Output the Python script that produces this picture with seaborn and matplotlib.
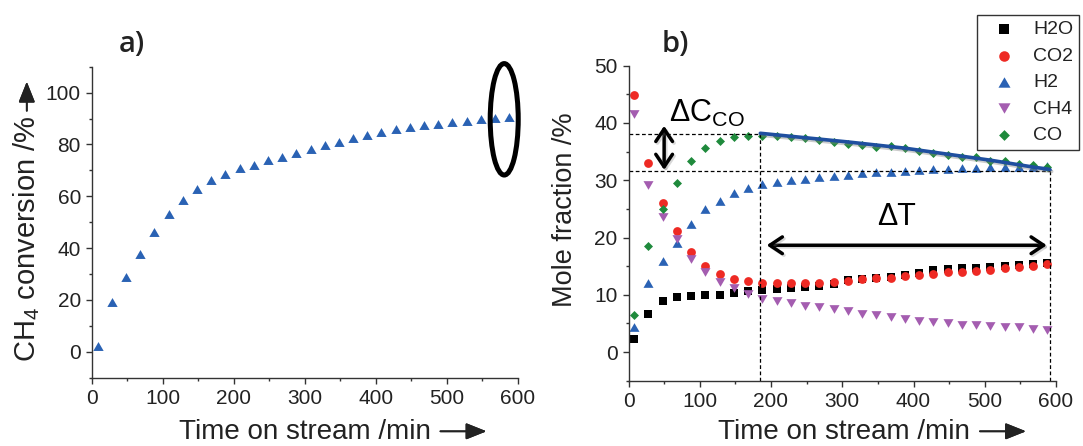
import matplotlib
matplotlib.use("Agg")
import matplotlib.pyplot as plt
import matplotlib.patheffects as pe
from matplotlib.patches import Ellipse
from matplotlib.path import Path
from matplotlib.ticker import MultipleLocator
import seaborn as sns

# ---------------- data ----------------
time_min = [8, 28, 48, 68, 88, 108, 128, 148, 168, 188,
            208, 228, 248, 268, 288, 308, 328, 348, 368, 388,
            408, 428, 448, 468, 488, 508, 528, 548, 568, 588]

ch4_conversion = [2.3, 19.3, 29.0, 37.7, 46.2, 53.0, 58.4, 62.7, 66.2, 68.5,
                  70.8, 72.2, 73.9, 75.3, 76.7, 78.4, 79.7, 81.1, 82.4, 83.7,
                  84.8, 85.9, 86.9, 87.5, 88.0, 88.7, 89.2, 89.7, 90.2, 90.6]

h2o = [2.2, 6.6, 8.9, 9.7, 9.85, 9.9, 10.0, 10.3, 10.6, 10.8,
       11.0, 11.1, 11.3, 11.5, 11.8, 12.5, 12.7, 12.9, 13.1, 13.4,
       13.8, 14.3, 14.5, 14.6, 14.7, 14.9, 15.0, 15.2, 15.3, 15.6]
co2 = [44.9, 33.0, 26.0, 21.1, 17.5, 15.0, 13.7, 12.8, 12.4, 12.1,
       12.0, 12.0, 12.0, 12.1, 12.3, 12.4, 12.7, 12.9, 13.0, 13.2,
       13.4, 13.7, 14.0, 14.0, 14.2, 14.4, 14.7, 14.9, 15.0, 15.3]
h2 = [4.4, 12.0, 15.9, 19.1, 22.4, 24.9, 26.4, 27.7, 28.7, 29.3,
      29.7, 30.0, 30.3, 30.6, 30.8, 31.0, 31.2, 31.4, 31.5, 31.7,
      31.8, 31.9, 32.0, 32.1, 32.2, 32.3, 32.3, 32.4, 32.4, 32.5]
ch4 = [41.6, 29.1, 23.6, 19.7, 16.2, 14.0, 12.2, 11.1, 10.2, 9.3,
       8.9, 8.5, 8.0, 7.8, 7.6, 7.1, 6.7, 6.4, 6.2, 5.8,
       5.4, 5.2, 5.0, 4.8, 4.7, 4.5, 4.4, 4.3, 4.1, 3.9]
co = [6.5, 18.5, 24.9, 29.6, 33.4, 35.6, 36.8, 37.5, 37.7, 37.8,
      37.7, 37.6, 37.4, 37.0, 36.7, 36.4, 36.1, 35.8, 35.9, 35.6,
      35.1, 34.7, 34.4, 34.1, 34.0, 33.4, 33.4, 32.9, 32.6, 32.4]

fit_time = [185, 307, 388, 508, 568, 591]
fit_co = [38.2, 36.7, 35.6, 33.5, 32.3, 31.9]

co_start_level = 38.0
co_end_level = 31.7
t_start = 184
t_end = 591
delta_c_time = 50
delta_t_level = 18.65

x_ticks = [0, 100, 200, 300, 400, 500, 600]
y_ticks_a = [0, 20, 40, 60, 80, 100]
y_ticks_b = [0, 10, 20, 30, 40, 50]

# ---------------- style ----------------
sns.set_theme(style="ticks")
plt.rcParams["font.family"] = ["Liberation Sans", "DejaVu Sans"]
plt.rcParams["mathtext.fontset"] = "custom"
plt.rcParams["mathtext.rm"] = "Liberation Sans"
plt.rcParams["mathtext.default"] = "regular"

TXT = "#222222"
SP = "#333333"
BLUE = "#2a62b4"
RED = "#ee2a24"
PURPLE = "#a45db0"
GREEN = "#1f8a3c"

tri_up = Path([(-1, -0.866), (1, -0.866), (0, 0.866), (-1, -0.866)],
              [Path.MOVETO, Path.LINETO, Path.LINETO, Path.CLOSEPOLY])
tri_dn = Path([(-1, 0.866), (1, 0.866), (0, -0.866), (-1, 0.866)],
              [Path.MOVETO, Path.LINETO, Path.LINETO, Path.CLOSEPOLY])

W, H = 1083, 446
fig = plt.figure(figsize=(W / 100, H / 100), dpi=100)


def fx(px):
    return px / W


def fy(py):
    return 1 - py / H


ax1 = fig.add_axes([fx(92), fy(377.7), (517.7 - 92) / W, (377.7 - 66.7) / H])
ax2 = fig.add_axes([fx(628.5), fy(380.7), (1056 - 628.5) / W, (380.7 - 65.7) / H])

for ax in (ax1, ax2):
    ax.spines[["top", "right"]].set_visible(False)
    for s in ("left", "bottom"):
        ax.spines[s].set_linewidth(1.0)
        ax.spines[s].set_color(SP)
    ax.tick_params(which="major", length=4, width=1.0, color=SP,
                   labelsize=15, labelcolor=TXT, pad=4, direction="out")
    ax.tick_params(which="minor", length=2.5, width=1.0, color=SP, direction="out")
    ax.set_xlim(0, 600)
    ax.set_xticks(x_ticks)
    ax.xaxis.set_minor_locator(MultipleLocator(50))
    ax.set_xlabel("")
    ax.set_ylabel("")

# ---------------- panel a ----------------
sns.scatterplot(x=time_min, y=ch4_conversion, ax=ax1, marker=tri_up, s=55,
                color=BLUE, linewidth=0, legend=False)
ax1.set_ylim(-10, 110)
ax1.set_yticks(y_ticks_a)
ax1.yaxis.set_minor_locator(MultipleLocator(10))
ax1.add_patch(Ellipse((581, 89.7), width=39.5, height=43, fill=False,
                      lw=3.6, ec="black", clip_on=False, zorder=5))

# ---------------- panel b ----------------
series = [("H2O", h2o, "s", 34, "black"),
          ("CO2", co2, "o", 40, RED),
          ("H2", h2, tri_up, 52, BLUE),
          ("CH4", ch4, tri_dn, 52, PURPLE),
          ("CO", co, "D", 21, GREEN)]
for name, vals, mk, sz, colr in series:
    sns.scatterplot(x=time_min, y=vals, ax=ax2, marker=mk, s=sz, color=colr,
                    linewidth=0, label=name)
sns.lineplot(x=fit_time, y=fit_co, ax=ax2, color="#1f4f9f", lw=2.6, zorder=4,
             legend=False,
             path_effects=[pe.SimpleLineShadow(offset=(1.5, -1.5), shadow_color="gray", alpha=0.4),
                           pe.Normal()])
ax2.set_ylim(-5, 50)
ax2.set_yticks(y_ticks_b)
ax2.yaxis.set_minor_locator(MultipleLocator(5))

dash = dict(color="black", lw=0.9, linestyles=(0, (3, 2)), zorder=1)
ax2.hlines(co_start_level, 0, t_start, **dash)
ax2.hlines(co_end_level, 0, t_end, **dash)
ax2.vlines(t_start, -5, co_start_level, **dash)
ax2.vlines(t_end, -5, co_end_level, **dash)

arrow_style = dict(arrowstyle="<->,head_length=0.45,head_width=0.3", lw=2.5,
                   color="black", shrinkA=0, shrinkB=0, mutation_scale=20,
                   path_effects=[pe.SimpleLineShadow(offset=(1.2, -1.2), shadow_color="gray", alpha=0.3),
                                 pe.Normal()])
ax2.annotate("", xy=(delta_c_time, 39.5), xytext=(delta_c_time, 31.8), arrowprops=arrow_style)
ax2.annotate("", xy=(194, delta_t_level), xytext=(587, delta_t_level), arrowprops=arrow_style)
ax2.text(57, 40.2, "ΔC$_{CO}$", fontsize=22, color="black", va="baseline")
ax2.text(376, 22.2, "ΔT", fontsize=22, color="black", ha="center", va="baseline")

leg = ax2.legend(loc="upper left", bbox_to_anchor=(fx(977), fy(15)),
                 bbox_transform=fig.transFigure, frameon=True, fancybox=False,
                 fontsize=14, borderpad=0.3, handlelength=2.2, handletextpad=0.4,
                 labelspacing=0.45, borderaxespad=0, markerscale=1.2)
leg.get_frame().set_edgecolor("black")
leg.get_frame().set_linewidth(1.0)
for t in leg.get_texts():
    t.set_color(TXT)

# ---------------- labels ----------------
fig.text(fx(132), fy(44), "a)", fontsize=21, fontweight="semibold",
         family=["Open Sans", "DejaVu Sans"], ha="center", va="center", color=TXT)
fig.text(fx(675), fy(44), "b)", fontsize=21, fontweight="semibold",
         family=["Open Sans", "DejaVu Sans"], ha="center", va="center", color=TXT)

XL_BASE = 439
xl_a = fig.text(fx(304.5), fy(XL_BASE), "Time on stream /min", fontsize=20,
                ha="center", va="baseline", color=TXT)
xl_b = fig.text(fx(844), fy(XL_BASE), "Time on stream /min", fontsize=20,
                ha="center", va="baseline", color=TXT)
yl_a = fig.text(fx(27), fy(239), "CH$_4$ conversion /%", fontsize=21, rotation=90,
                ha="center", va="center", color=TXT)
yl_b = fig.text(fx(564.5), fy(210), "Mole fraction /%", fontsize=19.5, rotation=90,
                ha="center", va="center", color=TXT)

fig.canvas.draw()
lab_arrow = dict(arrowstyle="-|>,head_length=0.7,head_width=0.28", lw=1.3,
                 color=TXT, shrinkA=0, shrinkB=0, mutation_scale=18)
for t in (xl_a, xl_b):
    bb = t.get_window_extent()
    y0 = H - (XL_BASE - 7.7)
    fig.add_artist(plt.annotate("", xy=(bb.x1 + 56, y0), xytext=(bb.x1 + 10, y0),
                                xycoords="figure pixels", textcoords="figure pixels",
                                arrowprops=lab_arrow))
bb = yl_a.get_window_extent()
fig.add_artist(plt.annotate("", xy=(26.8, bb.y1 + 34), xytext=(26.8, bb.y1 + 5),
                            xycoords="figure pixels", textcoords="figure pixels",
                            arrowprops=lab_arrow))

fig.savefig("out.png", dpi=100)
